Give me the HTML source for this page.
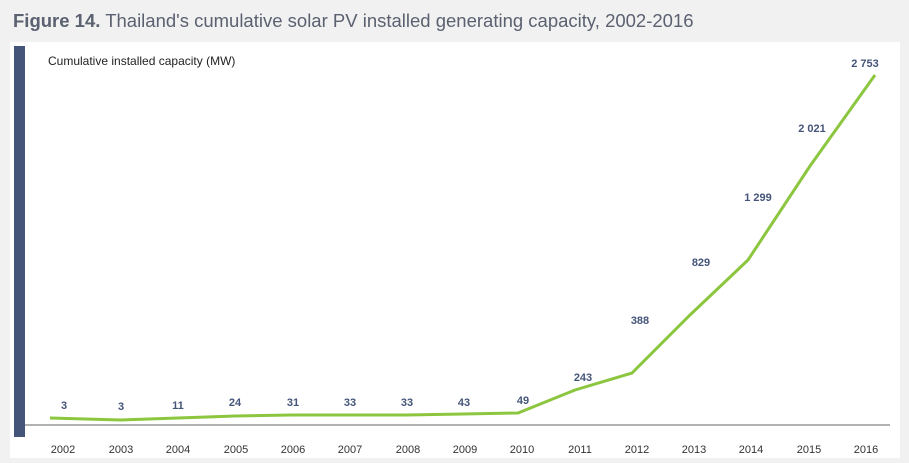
<!DOCTYPE html>
<html><head><style>
body{margin:0;width:909px;height:463px;background:#f1f1f1;font-family:"Liberation Sans",sans-serif;overflow:hidden}
</style></head><body>
<svg width="909" height="463" style="position:absolute;left:0;top:0">
<text x="13" y="27" font-size="18.5" fill="#5b6170" font-weight="bold">Figure 14.<tspan font-weight="normal"> Thailand's cumulative solar PV installed generating capacity, 2002-2016</tspan></text>
<rect x="10" y="42" width="890" height="416" fill="#fff"/>
<rect x="14" y="46" width="11" height="391" fill="#45557a"/>
<text x="48" y="65" font-size="12" fill="#222">Cumulative installed capacity (MW)</text>
<line x1="25" y1="425" x2="890" y2="425" stroke="#999" stroke-width="1.5"/>
<polyline fill="none" stroke="#8cc63f" stroke-width="3" points="50,418 121,420 178,418 235,416 292,415 349,415 406,415 463,414 518,413 575,390 632,373 690,315 748,260 810,166 875,75"/>
<g font-size="11" font-weight="bold" fill="#45557a" text-anchor="middle">
<text x="64" y="409">3</text><text x="121" y="410">3</text><text x="178" y="409">11</text><text x="235" y="406">24</text><text x="293" y="406">31</text><text x="350" y="406">33</text><text x="407" y="406">33</text><text x="464" y="406">43</text><text x="523" y="404">49</text>
<text x="583" y="381">243</text><text x="640" y="324">388</text><text x="701" y="266">829</text><text x="758" y="201">1 299</text><text x="812" y="132">2 021</text><text x="865" y="67">2 753</text>
</g>
<g font-size="11" fill="#333" text-anchor="middle">
<text x="63" y="453">2002</text><text x="121" y="453">2003</text><text x="178" y="453">2004</text><text x="236" y="453">2005</text><text x="293" y="453">2006</text><text x="350" y="453">2007</text><text x="408" y="453">2008</text><text x="465" y="453">2009</text><text x="522" y="453">2010</text><text x="580" y="453">2011</text><text x="637" y="453">2012</text><text x="694" y="453">2013</text><text x="751" y="453">2014</text><text x="809" y="453">2015</text><text x="866" y="453">2016</text>
</g>
</svg>
</body></html>
